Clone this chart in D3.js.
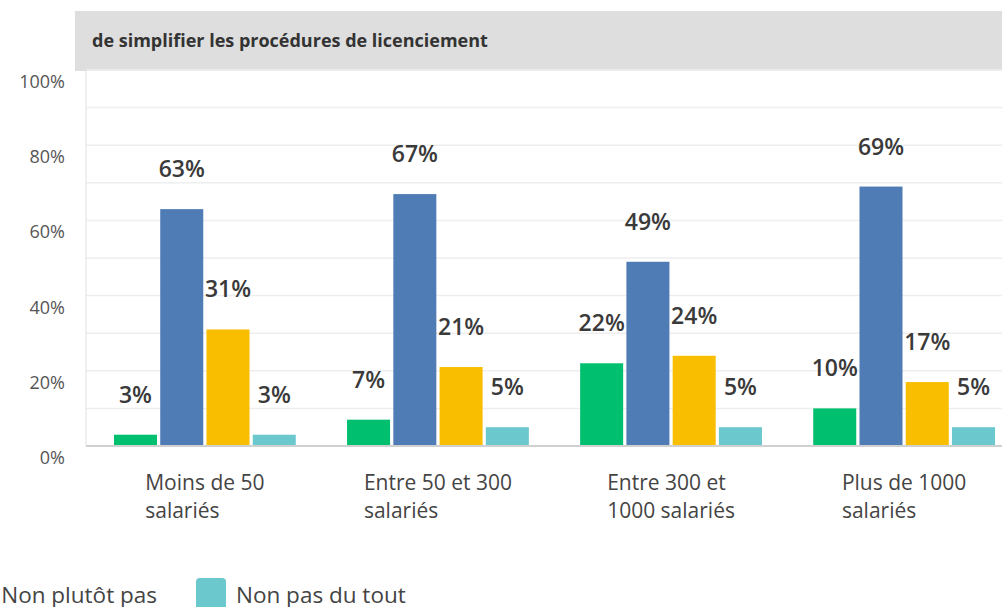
<!DOCTYPE html>
<html>
<head>
<meta charset="utf-8">
<script src="https://cdn.jsdelivr.net/npm/d3@7"></script>
<style>
  body { margin: 0; background: #fff; }
  svg { display: block; font-family: "Open Sans", sans-serif; }
</style>
</head>
<body>
<svg id="chart" width="1002" height="607"></svg>
<script>
// Chart data
const title = "de simplifier les procédures de licenciement";
const categories = [
  ["Moins de 50", "salariés"],
  ["Entre 50 et 300", "salariés"],
  ["Entre 300 et", "1000 salariés"],
  ["Plus de 1000", "salariés"],
];
const seriesNames = ["Oui tout à fait", "Oui plutôt", "Non plutôt pas", "Non pas du tout"];
const seriesColors = ["#00bf6f", "#507cb6", "#f9be00", "#6bc8cd"];
// values per category, in series order
const values = [
  [3, 63, 31, 3],
  [7, 67, 21, 5],
  [22, 49, 24, 5],
  [10, 69, 17, 5],
];
const yTicks = [0, 20, 40, 60, 80, 100];

const svg = d3.select("#chart");

// plot area
const plotLeft = 86, plotRight = 1023, plotTop = 70, plotBottom = 446;

// title bar
svg.append("rect")
  .attr("x", 75).attr("y", 11)
  .attr("width", 1002 - 75).attr("height", 60)
  .attr("fill", "#dedede");
svg.append("text")
  .attr("x", 92).attr("y", 47)
  .attr("font-size", 18).attr("font-weight", 700)
  .attr("fill", "#333")
  .text(title);

const y = d3.scaleLinear().domain([0, 100]).range([plotBottom, plotTop]);

const x0 = d3.scaleBand()
  .domain(d3.range(categories.length))
  .range([plotLeft, plotRight])
  .paddingInner(0.22)
  .paddingOuter(0.12);

const x1 = d3.scaleBand()
  .domain(d3.range(seriesNames.length))
  .range([0, x0.bandwidth()])
  .paddingInner(0.07);

// gridlines every 10%
svg.append("g")
  .selectAll("line")
  .data(d3.range(10, 101, 10))
  .join("line")
  .attr("x1", plotLeft).attr("x2", 1002)
  .attr("y1", d => y(d)).attr("y2", d => y(d))
  .attr("stroke", "#eeeeee")
  .attr("stroke-width", 1.5);

// vertical axis line
svg.append("line")
  .attr("x1", plotLeft).attr("x2", plotLeft)
  .attr("y1", plotTop).attr("y2", plotBottom)
  .attr("stroke", "#e0e0e0");

// y tick labels (sit a bit under their gridline)
svg.append("g")
  .selectAll("text")
  .data(yTicks)
  .join("text")
  .attr("x", 65)
  .attr("y", d => y(d) + 18)
  .attr("text-anchor", "end")
  .attr("font-size", 18)
  .attr("fill", "#555")
  .text(d => d + "%");

// bars
const groups = svg.append("g")
  .selectAll("g")
  .data(values)
  .join("g")
  .attr("transform", (d, i) => "translate(" + x0(i) + ",0)");

groups.selectAll("rect")
  .data(d => d)
  .join("rect")
  .attr("x", (d, i) => x1(i))
  .attr("y", d => y(d))
  .attr("width", x1.bandwidth())
  .attr("height", d => plotBottom - y(d))
  .attr("fill", (d, i) => seriesColors[i]);

groups.selectAll("text")
  .data(d => d)
  .join("text")
  .attr("x", (d, i) => x1(i) + x1.bandwidth() / 2)
  .attr("y", d => y(d) - 32)
  .attr("text-anchor", "middle")
  .attr("font-size", 23)
  .attr("font-weight", 600)
  .attr("fill", "#3a3a3a")
  .text(d => d + "%");

// baseline
svg.append("line")
  .attr("x1", plotLeft).attr("x2", 1002)
  .attr("y1", plotBottom).attr("y2", plotBottom)
  .attr("stroke", "#d0d0d0")
  .attr("stroke-width", 2);

// category labels: block centred under group, lines left aligned
categories.forEach((lines, i) => {
  const g = svg.append("g");
  const t = g.selectAll("text")
    .data(lines)
    .join("text")
    .attr("y", (d, j) => 490 + j * 28)
    .attr("font-size", 21)
    .attr("fill", "#444")
    .text(d => d);
  let w = 0;
  t.each(function () { w = Math.max(w, this.getComputedTextLength()); });
  t.attr("x", x0(i) + x0.bandwidth() / 2 - w / 2);
});

// legend (first items run off the left edge, as in the source crop)
const legend = svg.append("g");
const items = legend.selectAll("g")
  .data(seriesNames)
  .join("g");
items.append("rect")
  .attr("width", 30).attr("height", 32)
  .attr("y", 578).attr("rx", 4)
  .attr("fill", (d, i) => seriesColors[i]);
items.append("text")
  .attr("x", 40).attr("y", 603)
  .attr("font-size", 22.5)
  .attr("fill", "#444")
  .text(d => d);
const widths = [];
items.each(function () {
  widths.push(40 + d3.select(this).select("text").node().getComputedTextLength() + 39);
});
// anchor: last swatch at x=196
let pos = [];
let cx = 196;
for (let i = seriesNames.length - 1; i >= 0; i--) {
  pos[i] = cx;
  if (i > 0) cx -= widths[i - 1];
}
items.attr("transform", (d, i) => "translate(" + pos[i] + ",0)");
</script>
</body>
</html>
